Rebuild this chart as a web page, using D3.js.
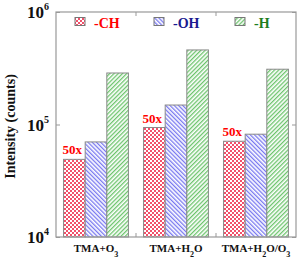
<!DOCTYPE html>
<html><head><meta charset="utf-8">
<script src="https://cdn.jsdelivr.net/npm/d3@7"></script>
<style>body{margin:0;background:#fff}svg{display:block}text{font-family:"Liberation Serif","Times New Roman",serif;font-weight:bold}</style>
</head><body>
<script>
const categories = ["TMA+O3", "TMA+H2O", "TMA+H2O/O3"];
const catParts = [[["TMA+O",""],["3","sub"]], [["TMA+H",""],["2","sub"],["O",""]], [["TMA+H",""],["2","sub"],["O/O",""],["3","sub"]]];
const series = ["-CH", "-OH", "-H"];
const valuesCH = [4.9e4, 9.4e4, 7.1e4];
const valuesOH = [7.0e4, 1.49e5, 8.2e4];
const valuesH = [2.87e5, 4.6e5, 3.1e5];
const yTicks = [1e4, 1e5, 1e6];
const tickExp = ["4", "5", "6"];
const annot = ["50x", "50x", "50x"];
const seriesValues = [valuesCH, valuesOH, valuesH];
const textColors = ["#ff0000", "#1a1a90", "#1e7d1e"];
const patIds = ["pCH", "pOH", "pH"];

const W = 298, H = 260;
const svg = d3.select("body").append("svg").attr("width", W).attr("height", H);
const defs = svg.append("defs");
// checker
const p1 = defs.append("pattern").attr("id","pCH").attr("patternUnits","userSpaceOnUse").attr("width",4).attr("height",4);
p1.append("rect").attr("width",4).attr("height",4).attr("fill","#fff");
p1.append("rect").attr("width",2).attr("height",2).attr("fill","#f2506a");
p1.append("rect").attr("x",2).attr("y",2).attr("width",2).attr("height",2).attr("fill","#f2506a");
// blue back-diagonal "\"
const p2 = defs.append("pattern").attr("id","pOH").attr("patternUnits","userSpaceOnUse").attr("width",3).attr("height",3).attr("patternTransform","rotate(-45)");
p2.append("rect").attr("width",3).attr("height",3).attr("fill","#fff");
p2.append("rect").attr("width",1.3).attr("height",3).attr("fill","#7878f0");
// green diagonal "/"
const p3 = defs.append("pattern").attr("id","pH").attr("patternUnits","userSpaceOnUse").attr("width",3).attr("height",3).attr("patternTransform","rotate(45)");
p3.append("rect").attr("width",3).attr("height",3).attr("fill","#fff");
p3.append("rect").attr("width",1.3).attr("height",3).attr("fill","#6cc46c");

const L = 56, R = 296, T = 12, B = 237;
const x0 = d3.scaleBand().domain(categories).range([L, R]).padding(0);
const x1 = d3.scaleBand().domain(series).range([0, x0.bandwidth()]).paddingInner(0).paddingOuter(0.35);
const y = d3.scaleLog().domain([1e4, 1e6]).range([B, T]);

const g = svg.append("g");
categories.forEach((c, ci) => {
  series.forEach((s, si) => {
    const v = seriesValues[si][ci];
    g.append("rect").attr("x", x0(c) + x1(s)).attr("y", y(v))
      .attr("width", x1.bandwidth()).attr("height", B - y(v))
      .attr("fill", `url(#${patIds[si]})`).attr("stroke", "#8a8a8a").attr("stroke-width", 1);
  });
  g.append("text").attr("x", x0(c) + x1(series[0]) - 1).attr("y", y(valuesCH[ci]) - 5)
    .attr("font-size", 13).attr("fill", "#ff0000").text(annot[ci]);
});

// frame
svg.append("rect").attr("x", L).attr("y", T).attr("width", R - L).attr("height", B - T)
  .attr("fill", "none").attr("stroke", "#999").attr("stroke-width", 1.2);

// ticks
const axL = d3.axisLeft(y).tickValues(yTicks).tickSize(-4).tickFormat("");
const axR = d3.axisRight(y).tickValues(yTicks).tickSize(-4).tickFormat("");
const gl = svg.append("g").attr("transform", `translate(${L},0)`).call(axL);
const gr = svg.append("g").attr("transform", `translate(${R},0)`).call(axR);
[gl, gr].forEach(a => { a.select(".domain").remove(); a.selectAll("line").attr("stroke", "#999"); });
const sep = categories.slice(1).map(c => x0(c));
sep.forEach(xv => {
  svg.append("line").attr("x1", xv).attr("x2", xv).attr("y1", T).attr("y2", T + 4).attr("stroke", "#999");
  svg.append("line").attr("x1", xv).attr("x2", xv).attr("y1", B).attr("y2", B - 4).attr("stroke", "#999");
});

// y tick labels
yTicks.forEach((t, i) => {
  const tx = svg.append("text").attr("x", 49).attr("y", y(t) + 6).attr("text-anchor", "end").attr("font-size", 17).attr("fill", "#111");
  tx.append("tspan").text("10");
  tx.append("tspan").attr("font-size", 10).attr("dy", -8).text(tickExp[i]);
});

// y title
svg.append("text").attr("transform", `translate(15,${(T + B) / 2 + 2}) rotate(-90)`).attr("text-anchor", "middle")
  .attr("font-size", 14).attr("fill", "#111").text("Intensity (counts)");

// category labels
categories.forEach((c, ci) => {
  const tx = svg.append("text").attr("x", x0(c) + x0.bandwidth() / 2).attr("y", 252).attr("text-anchor", "middle")
    .attr("font-size", 11).attr("fill", "#111");
  let shift = 0;
  catParts[ci].forEach(([s, kind]) => {
    if (kind === "sub") { tx.append("tspan").attr("font-size", 8).attr("dy", 5 - shift).text(s); shift = 5; }
    else { tx.append("tspan").attr("dy", -shift).text(s); shift = 0; }
  });
});

// legend
const legX = [75, 154, 235];
series.forEach((s, si) => {
  svg.append("rect").attr("x", legX[si]).attr("y", 17.5).attr("width", 10).attr("height", 8)
    .attr("fill", `url(#${patIds[si]})`).attr("stroke", "#777").attr("stroke-width", 1);
  svg.append("text").attr("x", legX[si] + 19).attr("y", 28).attr("font-size", 14).attr("fill", textColors[si]).text(s);
});
</script>
</body></html>
